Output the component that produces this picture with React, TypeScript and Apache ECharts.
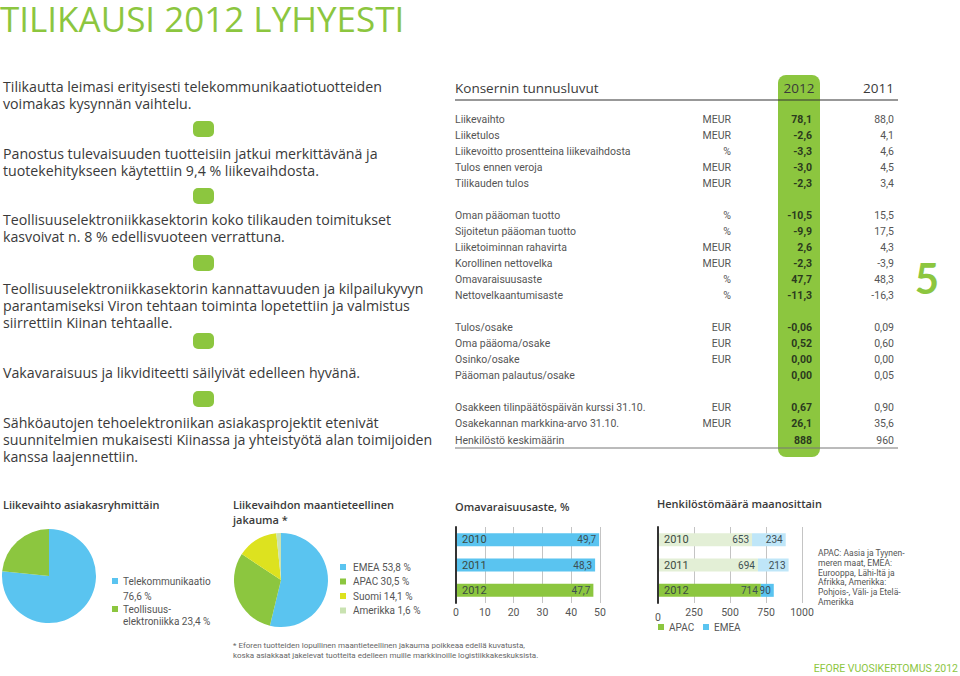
import React, { useEffect, useRef } from "react";
import * as echarts from "echarts";

// ---------- DATA ----------
const pageTitle = "TILIKAUSI 2012 LYHYESTI";

const highlights: string[][] = [
  ["Tilikautta leimasi erityisesti telekommunikaatiotuotteiden", "voimakas kysynnän vaihtelu."],
  ["Panostus tulevaisuuden tuotteisiin jatkui merkittävänä ja", "tuotekehitykseen käytettiin 9,4 % liikevaihdosta."],
  ["Teollisuuselektroniikkasektorin koko tilikauden toimitukset", "kasvoivat n. 8 % edellisvuoteen verrattuna."],
  [
    "Teollisuuselektroniikkasektorin kannattavuuden ja kilpailukyvyn",
    "parantamiseksi Viron tehtaan toiminta lopetettiin ja valmistus",
    "siirrettiin Kiinan tehtaalle.",
  ],
  ["Vakavaraisuus ja likviditeetti säilyivät edelleen hyvänä."],
  [
    "Sähköautojen tehoelektroniikan asiakasprojektit etenivät",
    "suunnitelmien mukaisesti Kiinassa ja yhteistyötä alan toimijoiden",
    "kanssa laajennettiin.",
  ],
];

const tableTitle = "Konsernin tunnusluvut";
const tableYears = ["2012", "2011"];
const kpiLabels = [
  "Liikevaihto", "Liiketulos", "Liikevoitto prosentteina liikevaihdosta", "Tulos ennen veroja", "Tilikauden tulos", "",
  "Oman pääoman tuotto", "Sijoitetun pääoman tuotto", "Liiketoiminnan rahavirta", "Korollinen nettovelka", "Omavaraisuusaste", "Nettovelkaantumisaste", "",
  "Tulos/osake", "Oma pääoma/osake", "Osinko/osake", "Pääoman palautus/osake", "",
  "Osakkeen tilinpäätöspäivän kurssi 31.10.", "Osakekannan markkina-arvo 31.10.", "Henkilöstö keskimäärin",
];
const kpiUnits = [
  "MEUR", "MEUR", "%", "MEUR", "MEUR", "",
  "%", "%", "MEUR", "MEUR", "%", "%", "",
  "EUR", "EUR", "EUR", "", "",
  "EUR", "MEUR", "",
];
const kpi2012 = [
  "78,1", "-2,6", "-3,3", "-3,0", "-2,3", "",
  "-10,5", "-9,9", "2,6", "-2,3", "47,7", "-11,3", "",
  "-0,06", "0,52", "0,00", "0,00", "",
  "0,67", "26,1", "888",
];
const kpi2011 = [
  "88,0", "4,1", "4,6", "4,5", "3,4", "",
  "15,5", "17,5", "4,3", "-3,9", "48,3", "-16,3", "",
  "0,09", "0,60", "0,00", "0,05", "",
  "0,90", "35,6", "960",
];
const pageNumber = "5";

const customerTitle = "Liikevaihto asiakasryhmittäin";
const customerGroups = ["Telekommunikaatio", "Teollisuuselektroniikka"];
const customerShares = [76.6, 23.4];
const customerLegend = [["Telekommunikaatio", "76,6 %"], ["Teollisuus-", "elektroniikka 23,4 %"]];

const geoTitle = ["Liikevaihdon maantieteellinen", "jakauma *"];
const geoRegions = ["EMEA", "APAC", "Suomi", "Amerikka"];
const geoShares = [53.8, 30.5, 14.1, 1.6];
const geoLegend = ["EMEA 53,8 %", "APAC 30,5 %", "Suomi 14,1 %", "Amerikka 1,6 %"];

const equityTitle = "Omavaraisuusaste, %";
const years = ["2010", "2011", "2012"];
const equityRatio = [49.7, 48.3, 47.7];

const staffTitle = "Henkilöstömäärä maanosittain";
const staffAPAC = [653, 694, 714];
const staffEMEA = [234, 213, 90];
const staffLegend = ["APAC", "EMEA"];
const staffNote = [
  "APAC: Aasia ja Tyynen-",
  "meren maat, EMEA:",
  "Eurooppa, Lähi-Itä ja",
  "Afrikka, Amerikka:",
  "Pohjois-, Väli- ja Etelä-",
  "Amerikka",
];

const footnote = [
  "* Eforen tuotteiden lopullinen maantieteellinen jakauma poikkeaa edellä kuvatusta,",
  "koska asiakkaat jakelevat tuotteita edelleen muille markkinoille logistiikkakeskuksista.",
];
const footer = "EFORE VUOSIKERTOMUS 2012";

// ---------- STYLE ----------
const GREEN = "#8cc63f";
const BLUE = "#5ac4f0";
const YELLOW = "#dde21f";
const PALE_GREEN = "#c9e2b1";
const PALE_BAR_GREEN = "#e3efd6";
const PALE_BAR_BLUE = "#bfe6f8";
const TEXT = "#3a3a3a";
const GRAY = "#555";
const SANS = "Open Sans";
const COND = "Roboto";

function buildGraphic() {
  const g: any[] = [];
  const txt = (text: string, x: number, y: number, size: number, color: string, opts: any = {}) => {
    g.push({
      type: "text",
      x,
      y,
      z: opts.z ?? 10,
      style: {
        text,
        fill: color,
        fontSize: size,
        fontFamily: opts.family ?? SANS,
        fontWeight: opts.weight ?? "normal",
        textAlign: opts.align ?? "left",
        textVerticalAlign: opts.valign ?? "middle",
        lineHeight: opts.lineHeight,
      },
    });
  };
  // multi-line block: y is the centre of the first line
  const block = (lines: string[], x: number, y: number, size: number, color: string, lh: number, opts: any = {}) =>
    txt(lines.join("\n"), x, y - lh / 2, size, color, { ...opts, lineHeight: lh, valign: "top" });

  // title
  txt(pageTitle, 0, 18, 35, GREEN, { lineHeight: 30 });

  // highlights
  const paraY = [86, 153, 219, 288, 372, 422];
  const bulletY = [129, 196, 263, 341, 399];
  highlights.forEach((lines, i) => block(lines, 3, paraY[i], 14.2, TEXT, 17));
  bulletY.forEach((y) =>
    g.push({ type: "rect", shape: { x: 193, y: y - 8, width: 21, height: 16, r: 5 }, style: { fill: GREEN } })
  );

  // table
  g.push({ type: "rect", z: 1, shape: { x: 778, y: 75, width: 42, height: 382, r: 8 }, style: { fill: GREEN } });
  txt(tableTitle, 455, 88, 13.5, TEXT);
  txt(tableYears[0], 799, 88, 13.5, TEXT, { align: "center" });
  txt(tableYears[1], 894, 88, 13.5, TEXT, { align: "right" });
  g.push({ type: "line", z: 5, shape: { x1: 455, y1: 100, x2: 898, y2: 100 }, style: { stroke: "#333", lineWidth: 1.2 } });
  g.push({ type: "line", z: 5, shape: { x1: 455, y1: 448, x2: 898, y2: 448 }, style: { stroke: "#777", lineWidth: 1 } });
  const rowStep = (440 - 119) / 20;
  kpiLabels.forEach((label, i) => {
    const y = 119 + i * rowStep;
    if (label) txt(label, 455, y, 10.5, GRAY, { family: COND });
    if (kpiUnits[i]) txt(kpiUnits[i], 731, y, 10.5, GRAY, { family: COND, align: "right" });
    if (kpi2012[i]) txt(kpi2012[i], 812, y, 10.5, "#2b3a1e", { family: COND, align: "right", weight: "bold" });
    if (kpi2011[i]) txt(kpi2011[i], 894, y, 10.5, GRAY, { family: COND, align: "right" });
  });
  txt(pageNumber, 927, 278, 42, GREEN, { align: "center", weight: "bold", family: "Lato" });

  // bottom titles
  txt(customerTitle, 3, 504, 11, TEXT, { weight: 600 });
  block(geoTitle, 233, 504, 11, TEXT, 15, { weight: 600 });
  txt(equityTitle, 455, 506, 11, TEXT, { weight: 600 });
  txt(staffTitle, 657, 503, 11, TEXT, { weight: 600 });

  // pie 1 legend
  const custColors = [BLUE, GREEN];
  const custY = [581, 609];
  const custLH = [15, 12];
  customerLegend.forEach((lines, i) => {
    g.push({ type: "rect", shape: { x: 112, y: custY[i] - 3, width: 6, height: 6 }, style: { fill: custColors[i] } });
    block(lines, 123, custY[i], 10, GRAY, custLH[i], { family: COND });
  });

  // pie 2 legend
  const geoColors = [BLUE, GREEN, YELLOW, PALE_GREEN];
  geoLegend.forEach((l, i) => {
    const y = 567 + i * 14.5;
    g.push({ type: "rect", shape: { x: 340, y: y - 3, width: 6, height: 6 }, style: { fill: geoColors[i] } });
    txt(l, 353, y, 10, GRAY, { family: COND });
  });

  // staff legend
  const staffColors = [GREEN, BLUE];
  staffLegend.forEach((l, i) => {
    const x = 658 + i * 45;
    g.push({ type: "rect", shape: { x, y: 624, width: 6, height: 6 }, style: { fill: staffColors[i] } });
    txt(l, x + 11, 627, 10, GRAY, { family: COND });
  });

  // staff note
  block(staffNote, 818, 553, 8.5, GRAY, 9.8, { family: COND });

  // footnote
  block(footnote, 233, 645, 8, "#666", 10, { family: COND });
  txt(footer, 958, 668, 10.5, GREEN, { family: COND, align: "right" });

  return g;
}

const fmt = (p: any) => String(p.value).replace(".", ",");

export default function App() {
  const ref = useRef<HTMLDivElement>(null);
  useEffect(() => {
    if (!ref.current) return;
    const chart = echarts.init(ref.current, undefined, { renderer: "svg" });
    const barLabel = {
      show: true,
      position: "insideRight",
      distance: 3,
      fontSize: 10,
      fontFamily: COND,
      color: "#3d4f55",
    };
    const catAxis = (gridIndex: number) => ({
      type: "category",
      gridIndex,
      data: years,
      inverse: true,
      z: 10,
      axisLine: { show: true, lineStyle: { color: "#333", width: 2 } },
      axisTick: { show: false },
      axisLabel: { inside: true, margin: 6, color: "#3b4a3f", fontSize: 11, fontFamily: COND },
    });
    const valAxis = (gridIndex: number, max: number, interval: number, lowZero: boolean) => ({
      type: "value",
      gridIndex,
      min: 0,
      max,
      interval,
      axisLine: { show: false },
      axisTick: { show: false },
      axisLabel: {
        color: GRAY,
        fontSize: 10.5,
        fontFamily: COND,
        margin: 4,
        formatter: (v: number) => (lowZero && v === 0 ? "{low|0}" : String(v)),
        rich: { low: { fontSize: 10.5, fontFamily: COND, color: GRAY, padding: [5, 0, 0, 0] } },
      },
      splitLine: { show: true, lineStyle: { color: "#c4c4c4", width: 1 } },
    });
    chart.setOption({
      animation: false,
      backgroundColor: "#fff",
      textStyle: { fontFamily: COND },
      grid: [
        { left: 456, top: 527, width: 144, height: 76 },
        { left: 658, top: 527, width: 144, height: 76 },
      ],
      xAxis: [valAxis(0, 50, 10, false), valAxis(1, 1000, 250, true)],
      yAxis: [catAxis(0), catAxis(1)],
      series: [
        {
          type: "pie",
          center: [49, 576],
          radius: 47,
          startAngle: 90,
          silent: true,
          label: { show: false },
          labelLine: { show: false },
          data: customerGroups.map((n, i) => ({ name: n, value: customerShares[i], itemStyle: { color: [BLUE, GREEN][i] } })),
        },
        {
          type: "pie",
          center: [281, 580],
          radius: 47,
          startAngle: 90,
          silent: true,
          label: { show: false },
          labelLine: { show: false },
          data: geoRegions.map((n, i) => ({
            name: n,
            value: geoShares[i],
            itemStyle: { color: [BLUE, GREEN, YELLOW, PALE_GREEN][i] },
          })),
        },
        {
          type: "bar",
          name: equityTitle,
          xAxisIndex: 0,
          yAxisIndex: 0,
          barWidth: 13,
          silent: true,
          label: { ...barLabel, formatter: fmt },
          data: equityRatio.map((v, i) => ({ value: v, itemStyle: { color: i === 2 ? GREEN : BLUE } })),
        },
        {
          type: "bar",
          name: "APAC",
          stack: "staff",
          xAxisIndex: 1,
          yAxisIndex: 1,
          barWidth: 13,
          silent: true,
          label: { ...barLabel, formatter: fmt },
          data: staffAPAC.map((v, i) => ({ value: v, itemStyle: { color: i === 2 ? GREEN : PALE_BAR_GREEN } })),
        },
        {
          type: "bar",
          name: "EMEA",
          stack: "staff",
          xAxisIndex: 1,
          yAxisIndex: 1,
          barWidth: 13,
          silent: true,
          label: { ...barLabel, formatter: fmt },
          data: staffEMEA.map((v, i) => ({ value: v, itemStyle: { color: i === 2 ? BLUE : PALE_BAR_BLUE } })),
        },
      ],
      graphic: buildGraphic(),
    });
    return () => chart.dispose();
  }, []);
  return <div ref={ref} style={{ position: "absolute", left: 0, top: 0, width: 960, height: 676 }} />;
}
